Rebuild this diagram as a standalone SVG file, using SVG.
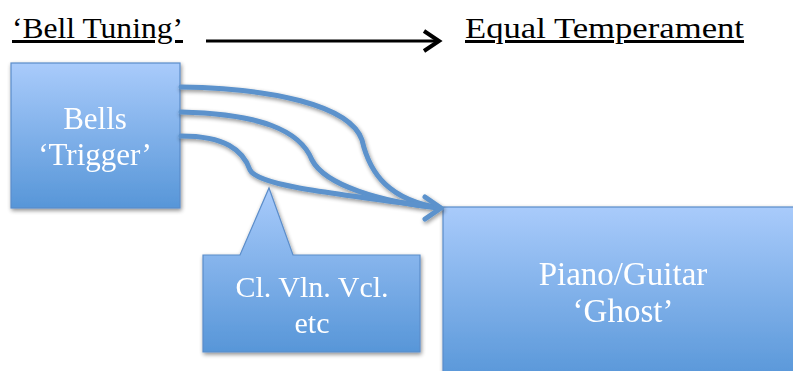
<svg xmlns="http://www.w3.org/2000/svg" width="793" height="371" viewBox="0 0 793 371">
  <defs>
    <linearGradient id="boxFill" x1="0" y1="0" x2="0" y2="1">
      <stop offset="0" stop-color="#a9cbfb"/>
      <stop offset="1" stop-color="#5796d8"/>
    </linearGradient>
    <filter id="shadow" x="-10%" y="-10%" width="130%" height="130%">
      <feGaussianBlur in="SourceAlpha" stdDeviation="2"/>
      <feOffset dx="1" dy="2" result="b"/>
      <feComponentTransfer><feFuncA type="linear" slope="0.45"/></feComponentTransfer>
      <feMerge><feMergeNode/><feMergeNode in="SourceGraphic"/></feMerge>
    </filter>
    <style>
      .box { fill: url(#boxFill); stroke: #5b8dca; stroke-width: 1.2; }
      .label { font-family: "Liberation Serif", "DejaVu Serif", serif; fill: #ffffff; text-anchor: middle; }
      .title { font-family: "Liberation Serif", "DejaVu Serif", serif; fill: #000000; font-size: 30px; text-decoration: underline; }
      .flow { fill: none; stroke: #5b92cc; stroke-width: 5; stroke-linecap: round; stroke-linejoin: round; }
    </style>
  </defs>

  <!-- headings -->
  <g id="heading-left">
    <text class="title" x="12" y="38" textLength="171" lengthAdjust="spacingAndGlyphs">‘Bell Tuning’</text>
  </g>
  <g id="heading-right">
    <text class="title" x="465" y="38" textLength="279" lengthAdjust="spacingAndGlyphs">Equal Temperament</text>
  </g>

  <!-- nodes -->
  <g id="bells" filter="url(#shadow)">
    <rect class="box" x="11" y="63" width="169" height="145"/>
    <text class="label" x="95" y="129" font-size="31">Bells</text>
    <text class="label" x="95" y="165" font-size="31">‘Trigger’</text>
  </g>

  <g id="piano" filter="url(#shadow)">
    <rect class="box" x="443" y="207" width="360" height="175"/>
    <text class="label" x="623" y="285" font-size="33">Piano/Guitar</text>
    <text class="label" x="623" y="322" font-size="33">‘Ghost’</text>
  </g>

  <g id="callout" filter="url(#shadow)">
    <path class="box" d="M203,255 H240 L269,188 L293,255 H420 V352 H203 Z"/>
    <text class="label" x="312" y="297" font-size="30">Cl. Vln. Vcl.</text>
    <text class="label" x="312" y="333" font-size="30">etc</text>
  </g>

  <!-- connectors -->
  <g id="connectors">
    <line x1="206" y1="41" x2="438" y2="41" stroke="#000" stroke-width="3"/>
    <polyline points="424,31 439,41 424,51" fill="none" stroke="#000" stroke-width="4" stroke-linejoin="miter"/>
    <g filter="url(#shadow)">
      <path class="flow" d="M181,87 C270,88 350,105 362,140 C370,175 390,200 440,208"/>
      <path class="flow" d="M181,112 C260,114 300,130 312,160 C325,185 380,202 440,208"/>
      <path class="flow" d="M181,136 C225,136 243,150 250,170 C258,185 320,192 440,208"/>
      <polyline class="flow" points="425,197 441,208 425,219" stroke-linecap="round"/>
    </g>
  </g>
</svg>
